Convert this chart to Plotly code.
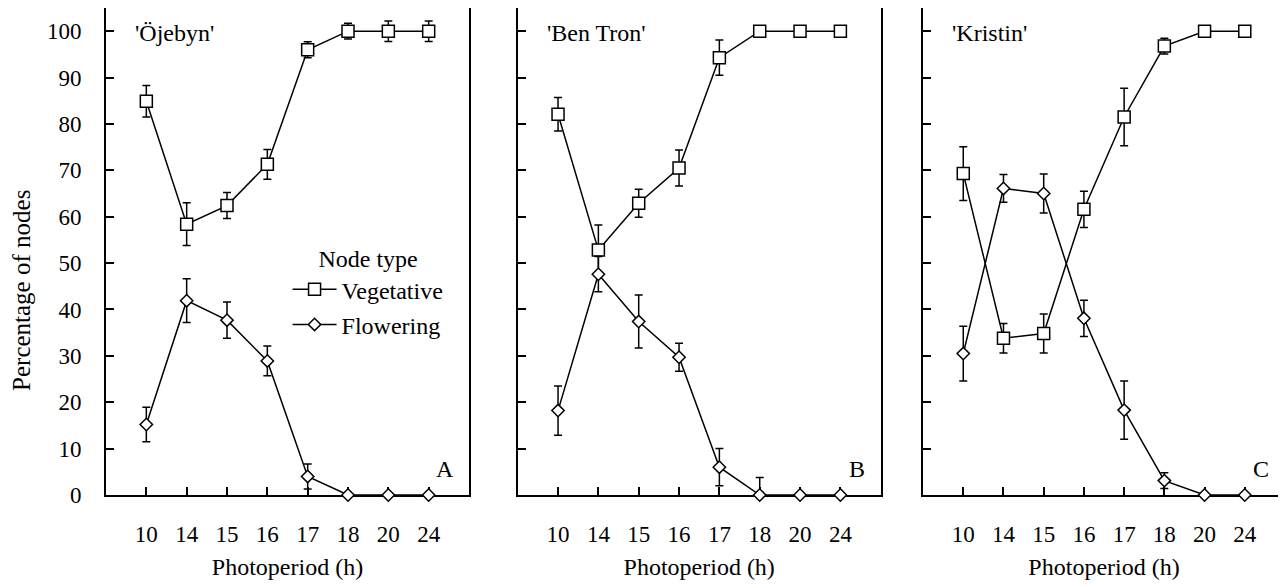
import plotly.graph_objects as go

# ---------------- data ----------------
photoperiod = ["10", "14", "15", "16", "17", "18", "20", "24"]
cultivars = ["'Öjebyn'", "'Ben Tron'", "'Kristin'"]
panel_letters = ["A", "B", "C"]

veg_ojebyn = [84.9, 58.4, 62.4, 71.3, 96.0, 100.0, 100.0, 100.0]
veg_ojebyn_err = [3.4, 4.6, 2.8, 3.2, 1.7, 1.7, 2.2, 2.2]
flo_ojebyn = [15.2, 41.9, 37.7, 28.9, 4.0, 0.0, 0.0, 0.0]
flo_ojebyn_err = [3.7, 4.7, 3.9, 3.2, 2.7, 0.0, 0.0, 0.0]

veg_bentron = [82.1, 52.8, 62.9, 70.5, 94.3, 100.0, 100.0, 100.0]
veg_bentron_err = [3.6, 5.4, 3.0, 3.9, 3.8, 0.0, 0.0, 0.0]
flo_bentron = [18.2, 47.6, 37.4, 29.7, 6.0, 0.0, 0.0, 0.0]
flo_bentron_err = [5.3, 3.8, 5.7, 3.0, 4.0, 3.8, 0.0, 0.0]

veg_kristin = [69.3, 33.8, 34.8, 61.6, 81.5, 96.8, 100.0, 100.0]
veg_kristin_err = [5.8, 3.2, 4.2, 3.9, 6.2, 1.7, 0.0, 0.0]
flo_kristin = [30.5, 66.1, 65.0, 38.1, 18.3, 3.1, 0.0, 0.0]
flo_kristin_err = [5.9, 3.0, 4.2, 3.9, 6.3, 1.7, 0.0, 0.0]

y_ticks = [0, 10, 20, 30, 40, 50, 60, 70, 80, 90, 100]

veg_series = [(veg_ojebyn, veg_ojebyn_err), (veg_bentron, veg_bentron_err), (veg_kristin, veg_kristin_err)]
flo_series = [(flo_ojebyn, flo_ojebyn_err), (flo_bentron, flo_bentron_err), (flo_kristin, flo_kristin_err)]

# ---------------- style ----------------
FONT = "Liberation Serif"
TICK_SIZE = 23
TITLE_SIZE = 24
domains = [[0.0, 0.3079], [0.3492, 0.6571], [0.6930, 1.0]]

fig = go.Figure()

def add_series(vals, errs, idx, name, symbol, size, group, show):
    ax = "" if idx == 0 else str(idx + 1)
    minus = [min(e, v) for v, e in zip(vals, errs)]
    fig.add_trace(go.Scatter(
        x=photoperiod, y=vals,
        mode="lines+markers",
        name=name, legendgroup=group, showlegend=show,
        line=dict(color="black", width=1.5),
        marker=dict(symbol=symbol, size=size, color="white",
                    line=dict(color="black", width=1.5)),
        error_y=dict(type="data", array=errs, arrayminus=minus,
                     color="black", thickness=1.5, width=4),
        cliponaxis=False,
        xaxis="x" + ax, yaxis="y" + ax,
    ))

for i in range(3):
    add_series(*veg_series[i], i, "Vegetative", "square", 12, "veg", i == 0)
for i in range(3):
    add_series(*flo_series[i], i, "Flowering", "diamond", 9.5, "flo", i == 0)

layout = dict(
    width=1286, height=587,
    margin=dict(l=98, r=9, t=0, b=100),
    paper_bgcolor="white", plot_bgcolor="white",
    font=dict(family=FONT, size=TICK_SIZE, color="black"),
    showlegend=True,
    legend=dict(
        x=0.154, y=0.532, xanchor="left", yanchor="top",
        bgcolor="rgba(0,0,0,0)",
        font=dict(family=FONT, size=TITLE_SIZE),
        title=dict(text="Node type", side="top center", font=dict(family=FONT, size=TITLE_SIZE)),
        itemwidth=44, tracegroupgap=1, traceorder="grouped",
    ),
)

for i in range(3):
    ax = "" if i == 0 else str(i + 1)
    layout["xaxis" + ax] = dict(
        domain=domains[i], type="category", categoryorder="array", categoryarray=photoperiod,
        range=[-1, 8], anchor="y" + ax, automargin=False,
        showline=True, mirror=True, linecolor="black", linewidth=2,
        ticks="inside", ticklen=8, tickwidth=1.5, tickcolor="black",
        showgrid=False, zeroline=False, layer="below traces",
        tickfont=dict(family=FONT, size=TICK_SIZE), ticklabelstandoff=17,
        title=dict(text="Photoperiod (h)", font=dict(family=FONT, size=TITLE_SIZE), standoff=13),
    )
    layout["yaxis" + ax] = dict(
        domain=[0, 1], range=[0, 105], anchor="x" + ax, automargin=False,
        tickvals=y_ticks, showticklabels=(i == 0),
        showline=True, mirror=True, linecolor="black", linewidth=2,
        ticks="inside", ticklen=8, tickwidth=1.5, tickcolor="black",
        showgrid=False, zeroline=False, layer="below traces",
        tickfont=dict(family=FONT, size=TICK_SIZE), ticklabelstandoff=18,
    )

fig.update_layout(**layout)

annotations = []
for i in range(3):
    ax = "x" if i == 0 else "x" + str(i + 1)
    ay = "y" if i == 0 else "y" + str(i + 1)
    annotations.append(dict(text=cultivars[i], xref=ax + " domain", yref=ay + " domain",
                            x=0.074, y=0.949, xanchor="left", yanchor="middle", showarrow=False,
                            font=dict(family=FONT, size=TITLE_SIZE)))
    annotations.append(dict(text=panel_letters[i], xref=ax + " domain", yref=ay + " domain",
                            x=0.934, y=0.053, xanchor="center", yanchor="middle", showarrow=False,
                            font=dict(family=FONT, size=TITLE_SIZE)))
annotations.append(dict(text="Percentage of nodes", xref="paper", yref="paper",
                        x=(22 - 106) / 1179, y=0.419, xanchor="center", yanchor="middle",
                        textangle=-90, showarrow=False, font=dict(family=FONT, size=25)))
fig.update_layout(annotations=annotations)

fig.write_html("out.html")
